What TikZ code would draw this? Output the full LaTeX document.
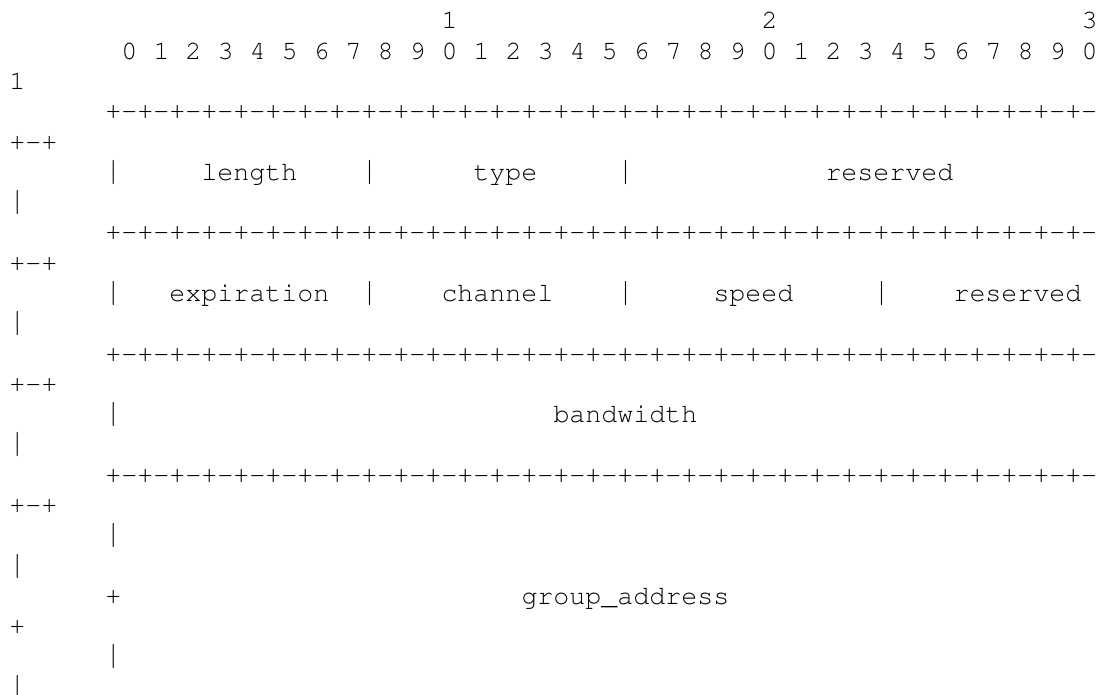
\documentclass[tikz,border=0pt]{standalone}
\usepackage[T1]{fontenc}
\usepackage{courier}
\usepackage{graphicx}
\usetikzlibrary{positioning}

\tikzset{
    txt/.style={anchor=base west, inner sep=0pt, outer sep=0pt,
        font=\ttfamily\fontsize{13.33pt}{15pt}\selectfont},
}
\newcommand{\sepline}{+-+-+-+-+-+-+-+-+-+-+-+-+-+-+-+-+-+-+-+-+-+-+-+-+-+-+-+-+-+-+-}
\newcommand{\vbar}{\scalebox{1}[1.25]{|}}

\begin{document}
\begin{tikzpicture}[x=8pt, y=-15.14pt]
    \useasboundingbox (-4.75pt,14.5pt) rectangle ++(552.5pt,-347.5pt);

    \foreach \d [count=\i] in {1,2,3}
        \node[txt] (ten\i) at (7+20*\i,0) {\d};
    \foreach \k in {0,...,30} {
        \pgfmathtruncatemacro\d{mod(\k,10)}
        \node[txt] (bit\k) at (7+2*\k,1) {\d};
    }
    \node[txt] (bitw) at (0,2) {1};

    \foreach \r [count=\i] in {3,7,11,15} {
        \node[txt] (sep\i) at (6,\r) {\sepline};
        \node[txt] (sepw\i) at (0,\r+1) {+-+};
    }

    \node[txt] (bar1a) at (6,5) {\vbar};
    \node[txt] (len) at (12,5) {length};
    \node[txt] (bar1b) at (22,5) {\vbar};
    \node[txt] (type) at (29,5) {type};
    \node[txt] (bar1c) at (38,5) {\vbar};
    \node[txt] (res1) at (51,5) {reserved};
    \node[txt] (bar1w) at (0,6) {\vbar};

    \node[txt] (bar2a) at (6,9) {\vbar};
    \node[txt] (expir) at (10,9) {expiration};
    \node[txt] (bar2b) at (22,9) {\vbar};
    \node[txt] (chan) at (27,9) {channel};
    \node[txt] (bar2c) at (38,9) {\vbar};
    \node[txt] (speed) at (44,9) {speed};
    \node[txt] (bar2d) at (54,9) {\vbar};
    \node[txt] (res2) at (59,9) {reserved};
    \node[txt] (bar2w) at (0,10) {\vbar};

    \node[txt] (bar3a) at (6,13) {\vbar};
    \node[txt] (bw) at (34,13) {bandwidth};
    \node[txt] (bar3w) at (0,14) {\vbar};

    \node[txt] (bar4a) at (6,17) {\vbar};
    \node[txt] (bar4w) at (0,18) {\vbar};
    \node[txt] (plus4a) at (6,19) {+};
    \node[txt] (grp) at (32,19) {group\_address};
    \node[txt] (plus4w) at (0,20) {+};
    \node[txt] (bar5a) at (6,21) {\vbar};
    \node[txt] (bar5w) at (0,22) {\vbar};
\end{tikzpicture}
\end{document}
